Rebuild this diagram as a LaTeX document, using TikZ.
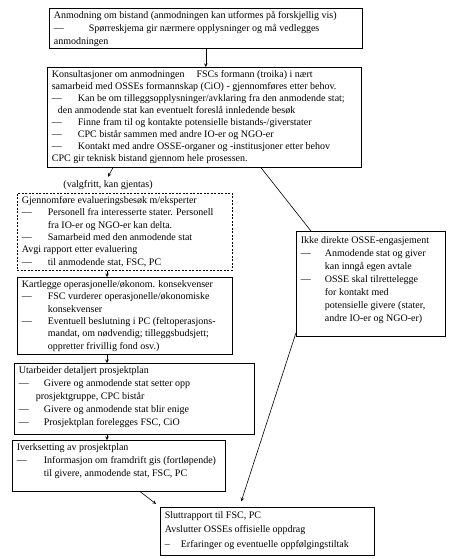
\documentclass[tikz,border=0pt]{standalone}
\usepackage{fontspec}
\setmainfont{Liberation Serif}
\usepackage{tikz}
\usetikzlibrary{calc,shadows}

\newcommand{\boxtext}[3]{\parbox[c][\dimexpr#2pt-6pt\relax][t]{\dimexpr#1pt-9pt\relax}{\rightskip=0pt plus 1fil#3}}
\newcommand{\dashitem}[3]{\par\noindent\hangindent=#2pt\hangafter=1\makebox[#1pt][l]{---}#3}

\tikzset{
  planbox/.style={draw,rectangle,anchor=north west,fill=white,inner xsep=4.5pt,inner ysep=3pt,line width=0.7pt,
    drop shadow={shadow xshift=0.8pt,shadow yshift=-0.8pt,fill=black!55}},
  evalbox/.style={draw,rectangle,anchor=north west,fill=white,inner xsep=4.5pt,inner ysep=3pt,line width=0.7pt,
    dash pattern=on 2pt off 1.5pt}
}

\begin{document}
\begin{tikzpicture}[x=1pt,y=-1pt,>=stealth,line width=0.6pt,font=\fontsize{10}{13}\selectfont]
\useasboundingbox (0,0) rectangle (450,559);
\coordinate (spine) at (107,0);
\node[planbox] (anmod) at (49,8) {\boxtext{313}{40}{Anmodning om bistand (anmodningen kan utformes på forskjellig vis)
\dashitem{35}{0}{Spørreskjema gir nærmere opplysninger og må vedlegges\\anmodningen}}};
\node[planbox,font=\fontsize{10}{12}\selectfont] (konsult) at (47,67) {\boxtext{314}{100}{Konsultasjoner om anmodningen\hspace{12pt}FSCs formann (troika) i nært\\
samarbeid med OSSEs formannskap (CiO) - gjennomføres etter behov.
\dashitem{26}{6}{Kan be om tilleggsopplysninger/avklaring fra den anmodende stat;\\den anmodende stat kan eventuelt foreslå innledende besøk}
\dashitem{26}{26}{Finne fram til og kontakte potensielle bistands-/giverstater}
\dashitem{26}{26}{CPC bistår sammen med andre IO-er og NGO-er}
\dashitem{26}{26}{Kontakt med andre OSSE-organer og -institusjoner etter behov}
\par CPC gir teknisk bistand gjennom hele prosessen.}};
\node (valg) at (108,185) {(valgfritt, kan gjentas)};
\node[evalbox,font=\fontsize{10}{12.4}\selectfont] (evaluer) at (17,193) {\boxtext{215}{77}{Gjennomføre evalueringsbesøk m/eksperter
\dashitem{26}{26}{Personell fra interesserte stater. Personell\\fra IO-er og NGO-er kan delta.}
\dashitem{26}{26}{Samarbeid med den anmodende stat}
\par Avgi rapport etter evaluering
\dashitem{26}{26}{til anmodende stat, FSC, PC}}};
\node[planbox,font=\fontsize{10}{12.4}\selectfont] (kartlegg) at (17,277) {\boxtext{215}{77}{Kartlegge operasjonelle/økonom. konsekvenser
\dashitem{26}{26}{FSC vurderer operasjonelle/økonomiske\\konsekvenser}
\dashitem{26}{26}{Eventuell beslutning i PC (feltoperasjons-\\mandat, om nødvendig; tilleggsbudsjett;\\oppretter frivillig fond osv.)}}};
\node[planbox] (prosjplan) at (14,363) {\boxtext{240}{71}{Utarbeider detaljert prosjektplan
\dashitem{25}{17}{Givere og anmodende stat setter opp\\prosjektgruppe, CPC bistår}
\dashitem{25}{25}{Givere og anmodende stat blir enige}
\dashitem{25}{25}{Prosjektplan forelegges FSC, CiO}}};
\node[planbox] (iverk) at (12,440) {\boxtext{213}{51}{Iverksetting av prosjektplan
\dashitem{27}{27}{Informasjon om framdrift gis (fortløpende)\\til givere, anmodende stat, FSC, PC}}};
\node[planbox] (ikke) at (296,231) {\boxtext{149}{105}{\vspace*{2pt}Ikke direkte OSSE-engasjement
\dashitem{24}{24}{Anmodende stat og giver\\kan inngå egen avtale}
\dashitem{24}{24}{OSSE skal tilrettelegge\\for kontakt med\\potensielle givere (stater,\\andre IO-er og NGO-er)}}};
\node[planbox,font=\fontsize{10}{14.5}\selectfont] (slutt) at (160,507) {\boxtext{214}{48}{\vspace*{1pt}Sluttrapport til FSC, PC\\
Avslutter OSSEs offisielle oppdrag
\par\noindent\hangindent=16pt\makebox[16pt][l]{--}Erfaringer og eventuelle oppfølgingstiltak}};
\draw[->] (anmod.south) -- (anmod.south |- konsult.north);
\draw[->] ([xshift=6pt]spine |- konsult.south) -- (valg.north);
\draw ($(konsult.south west)!0.68!(konsult.south east)$) -- ($(ikke.north west)!0.1!(ikke.north east)$);
\draw[->] (spine |- evaluer.south) -- (spine |- kartlegg.north);
\draw[->] (spine |- kartlegg.south) -- (spine |- prosjplan.north);
\draw[->] (spine |- prosjplan.south) -- (spine |- iverk.north);
\draw[->,shorten >=5pt] ($(iverk.south west)!0.6!(iverk.south east)$) -- (slutt.north west);
\draw[->,shorten >=6pt] ([yshift=4pt]ikke.south west) -- ($(slutt.north west)!0.37!(slutt.north east)$);
\end{tikzpicture}
\end{document}
